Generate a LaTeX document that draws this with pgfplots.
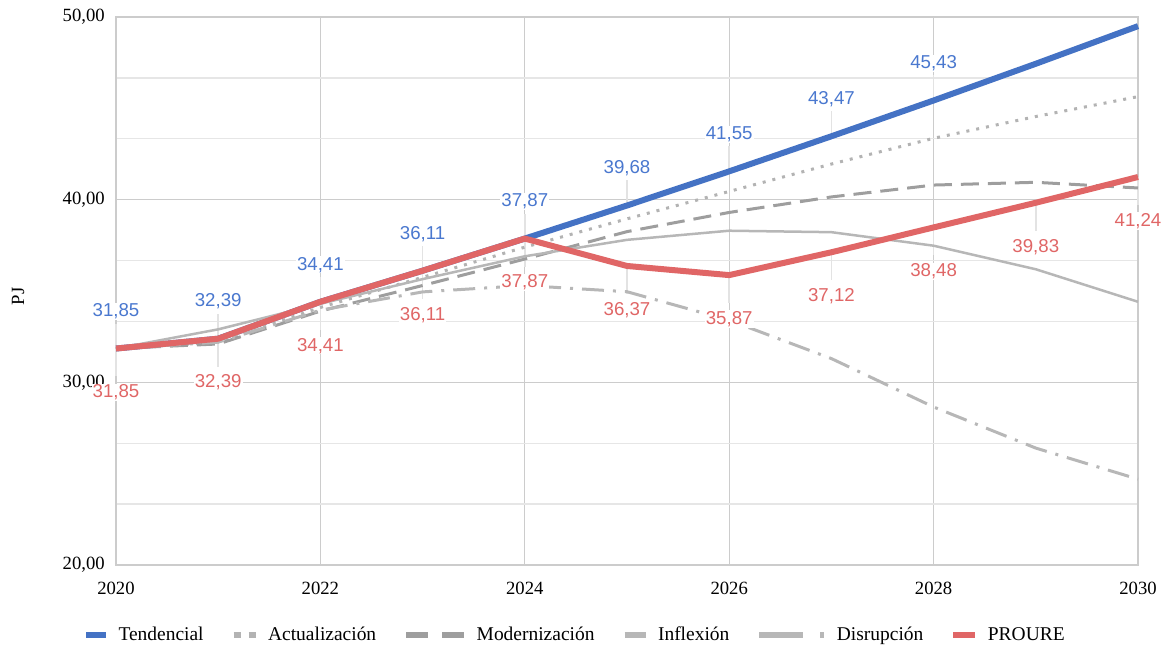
\documentclass[border=0pt]{standalone}
\usepackage{fontspec}
\setmainfont{Liberation Serif}
\newfontfamily\labfont{Liberation Sans}
\usepackage{pgfplots}
\pgfplotsset{compat=1.18}
\newlength\px \setlength\px{0.75pt}
\definecolor{tblue}{HTML}{4472C4}
\definecolor{lblue}{HTML}{4A78CF}
\definecolor{pred}{HTML}{E06666}
\definecolor{gdot}{HTML}{B3B3B3}
\definecolor{gdash}{HTML}{9E9E9E}
\definecolor{ginf}{HTML}{B7B7B7}
\definecolor{gdis}{HTML}{B7B7B7}
\definecolor{gridc}{HTML}{CCCCCC}
\definecolor{gridm}{HTML}{E6E6E6}
\definecolor{leadc}{HTML}{E3E3E3}

\pgfplotstableread{
x y lab
2020 31.85 31,85
2021 32.39 32,39
2022 34.41 34,41
2023 36.11 36,11
2024 37.87 37,87
2025 39.68 39,68
2026 41.55 41,55
2027 43.47 43,47
2028 45.43 45,43
}\tendlab
\pgfplotstableread{
x y
2020 31.85
2021 32.39
2022 34.41
2023 36.11
2024 37.87
2025 39.68
2026 41.55
2027 43.47
2028 45.43
2029 47.44
2030 49.50
}\tend
\pgfplotstableread{
x y
2020 31.85
2021 32.20
2022 34.10
2023 35.75
2024 37.40
2025 38.95
2026 40.45
2027 41.95
2028 43.36
2029 44.55
2030 45.64
}\actu
\pgfplotstableread{
x y
2020 31.85
2021 32.10
2022 33.90
2023 35.30
2024 36.75
2025 38.25
2026 39.30
2027 40.15
2028 40.80
2029 40.95
2030 40.64
}\mode
\pgfplotstableread{
x y
2020 31.85
2021 32.90
2022 34.30
2023 35.65
2024 36.90
2025 37.80
2026 38.30
2027 38.22
2028 37.48
2029 36.19
2030 34.41
}\infl
\pgfplotstableread{
x y
2020 31.85
2021 32.20
2022 33.95
2023 34.95
2024 35.30
2025 34.96
2026 33.40
2027 31.30
2028 28.65
2029 26.40
2030 24.70
}\disr
\pgfplotstableread{
x y lab
2020 31.85 31,85
2021 32.39 32,39
2022 34.41 34,41
2023 36.11 36,11
2024 37.87 37,87
2025 36.37 36,37
2026 35.87 35,87
2027 37.12 37,12
2028 38.48 38,48
2029 39.83 39,83
2030 41.24 41,24
}\proure

\begin{document}
\begin{tikzpicture}
\begin{axis}[
  scale only axis, width=1022\px, height=548\px,
  xmin=2020, xmax=2030, ymin=20, ymax=50,
  xtick={2020,2022,...,2030}, ytick={20,30,40,50},
  minor ytick={23.3333,26.6667,33.3333,36.6667,43.3333,46.6667},
  xmajorgrids, ymajorgrids, yminorgrids,
  major grid style={draw=gridc, line width=1.3\px},
  minor grid style={draw=gridm, line width=1.3\px},
  axis line style={draw=gridc, line width=1.3\px},
  major tick length=0pt, minor tick length=0pt, tick style={draw=none},
  clip=false,
  tick label style={font=\fontsize{14}{16}\selectfont},
  y tick label style={/pgf/number format/fixed, /pgf/number format/fixed zerofill, /pgf/number format/precision=2, /pgf/number format/use comma, /pgf/number format/assume math mode=true},
  x tick label style={/pgf/number format/1000 sep={}, /pgf/number format/assume math mode=true},
  yticklabel style={anchor=east, inner sep=0pt, xshift=-11\px},
  xticklabel style={anchor=north, inner sep=0pt, yshift=-17\px},
  ylabel={PJ},
  ylabel style={at={(axis description cs:-0.0959,0.49)}, anchor=center, font=\fontsize{14}{16}\selectfont},
  legend columns=-1,
  legend cell align=left,
  legend style={at={(axis description cs:-0.03229,-0.12774)}, anchor=west, draw=none, fill=none,
    font=\fontsize{14.6}{16}\selectfont, inner sep=0pt, outer sep=0pt,
    nodes={inner sep=0pt},
    /tikz/every odd column/.append style={column sep=9.5\px},
    /tikz/every even column/.append style={column sep=27\px}},
]
% leader lines
\addplot[draw=none, forget plot, error bars/.cd, y dir=plus, y fixed=1.37, error mark=none,
  error bar style={draw=leadc, line width=1.5\px, solid}] table[x=x,y=y] {\tendlab};
\addplot[draw=none, forget plot, error bars/.cd, y dir=minus, y fixed=1.53, error mark=none,
  error bar style={draw=leadc, line width=1.5\px, solid}] table[x=x,y=y] {\proure};

\addplot[tblue, line width=6\px, line join=round,
  legend image code/.code={\draw[tblue, line width=6\px] (0,0) -- (20\px,0);}] table[x=x,y=y] {\tend};
\addlegendentry{Tendencial}
\addplot[gdot, line width=3\px, dash pattern=on 3\px off 7\px,
  legend image code/.code={\draw[gdot, line width=6\px, dash pattern=on 7\px off 8\px] (0,0) -- (22\px,0);}] table[x=x,y=y] {\actu};
\addlegendentry{Actualización}
\addplot[gdash, line width=3\px, dash pattern=on 18\px off 9\px,
  legend image code/.code={\draw[gdash, line width=6\px, dash pattern=on 22\px off 14\px] (0,0) -- (58\px,0);}] table[x=x,y=y] {\mode};
\addlegendentry{Modernización}
\addplot[ginf, line width=2.5\px, line join=round,
  legend image code/.code={\draw[ginf, line width=6\px] (0,0) -- (21\px,0);}] table[x=x,y=y] {\infl};
\addlegendentry{Inflexión}
\addplot[gdis, line width=3\px, dash pattern=on 22\px off 9\px on 3\px off 9\px,
  legend image code/.code={\draw[gdis, line width=6\px, dash pattern=on 44\px off 17\px on 4\px off 20\px] (0,0) -- (65\px,0);}] table[x=x,y=y] {\disr};
\addlegendentry{Disrupción}
\addplot[pred, line width=6\px, line join=round,
  legend image code/.code={\draw[pred, line width=6\px] (0,0) -- (22\px,0);}] table[x=x,y=y] {\proure};
\addlegendentry{PROURE}

% data labels
\addplot[draw=none, forget plot, nodes near coords, point meta=explicit symbolic,
  every node near coord/.append style={anchor=center, yshift=37\px, fill=white, inner sep=1\px,
    text=lblue, font=\labfont\fontsize{14}{16}\selectfont}] table[x=x,y=y,meta=lab] {\tendlab};
\addplot[draw=none, forget plot, nodes near coords, point meta=explicit symbolic,
  every node near coord/.append style={anchor=center, yshift=-44\px, fill=white, inner sep=1\px,
    text=pred, font=\labfont\fontsize{14}{16}\selectfont}] table[x=x,y=y,meta=lab] {\proure};
\end{axis}
\pgfresetboundingbox
\path[use as bounding box] ([shift={(-116\px,-84\px)}]current axis.south west) rectangle ([shift={(31\px,17\px)}]current axis.north east);
\end{tikzpicture}
\end{document}
